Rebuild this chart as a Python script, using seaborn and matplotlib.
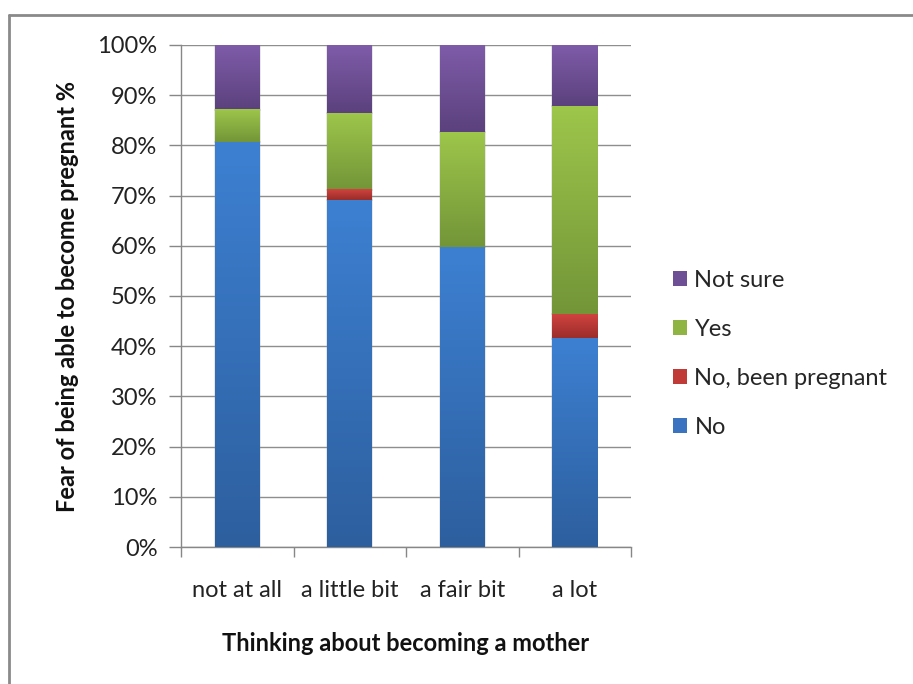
import numpy as np
import pandas as pd
import matplotlib
matplotlib.use("Agg")
import matplotlib.pyplot as plt
from matplotlib.colors import LinearSegmentedColormap
from matplotlib.patches import Patch, Rectangle
from matplotlib.lines import Line2D
import seaborn as sns

# Survey responses (% of respondents) per level of thinking about motherhood
categories = ["not at all", "a little bit", "a fair bit", "a lot"]
series = ["No", "No, been pregnant", "Yes", "Not sure"]
no_vals = [80.6, 69.1, 59.7, 41.5]
no_pregnant_vals = [0.0, 2.1, 0.0, 4.9]
yes_vals = [6.4, 15.3, 22.9, 41.4]
not_sure_vals = [13.0, 13.5, 17.4, 12.2]
y_ticks = [0, 10, 20, 30, 40, 50, 60, 70, 80, 90, 100]

# (top colour, bottom colour) for each series' vertical gradient
gradients = {
    "No": ("#3d80d2", "#2d5f9e"),
    "No, been pregnant": ("#d0433f", "#992c2a"),
    "Yes": ("#9dc64b", "#739538"),
    "Not sure": ("#7f5ca9", "#5b417d"),
}
legend_colors = {
    "No": "#3a74c0",
    "No, been pregnant": "#c03a37",
    "Yes": "#8fb443",
    "Not sure": "#6e4f96",
}

values = {"No": no_vals, "No, been pregnant": no_pregnant_vals,
          "Yes": yes_vals, "Not sure": not_sure_vals}

FS = 17

sns.set_theme(style="white")
plt.rcParams["font.family"] = ["Lato", "DejaVu Sans"]

fig = plt.figure(figsize=(9.13, 6.84), dpi=100)
ax = fig.add_axes([181 / 913, 1 - 547 / 684, 450 / 913, 502 / 684])

# cumulative stacks, drawn from the top layer down
cum = np.cumsum(np.array([values[s] for s in series]), axis=0)
lower = np.vstack([np.zeros(len(categories)), cum[:-1]])

for i in reversed(range(len(series))):
    df = pd.DataFrame({"cat": categories, "val": cum[i]})
    sns.barplot(data=df, x="cat", y="val", order=categories, ax=ax,
                color="white", width=0.4, saturation=1, edgecolor="none",
                linewidth=0, zorder=3)

# paint each segment with its gradient
n = len(categories)
bars = ax.patches
# patches are in drawing order: top layer first ... bottom layer last
for layer_idx, i in enumerate(reversed(range(len(series)))):
    top_c, bot_c = gradients[series[i]]
    cmap = LinearSegmentedColormap.from_list("g", [bot_c, top_c])
    grad = np.linspace(0, 1, 256).reshape(-1, 1)
    for j in range(n):
        p = bars[layer_idx * n + j]
        p.set_facecolor("none")
        lo, hi = lower[i, j], cum[i, j]
        if hi - lo <= 0.01:
            continue
        x0 = p.get_x()
        w = p.get_width()
        ax.imshow(grad, cmap=cmap, origin="lower", aspect="auto",
                  extent=(x0, x0 + w, lo, hi), zorder=4, interpolation="bilinear")
        # soft shadow edge
        ax.add_patch(Rectangle((x0, lo), w, hi - lo, fill=False,
                               edgecolor=(0.55, 0.55, 0.55, 0.25), lw=1.2, zorder=3.5))

ax.set_xlim(-0.5, n - 0.5)
ax.set_ylim(0, 100)
ax.set_yticks(y_ticks)
ax.set_yticklabels([f"{t}%" for t in y_ticks])
ax.set_xticks(range(n))
ax.set_xticklabels(categories)
ax.set_xticks(np.arange(-0.5, n, 1.0), minor=True)

axis_gray = "#878787"
ax.grid(axis="y", color="#8e8e8e", lw=1.0, zorder=0)
ax.grid(axis="x", visible=False)
for side in ["top", "right"]:
    ax.spines[side].set_visible(False)
for side in ["left", "bottom"]:
    ax.spines[side].set_color(axis_gray)
    ax.spines[side].set_linewidth(1.0)

ax.tick_params(axis="y", which="major", left=True, length=9, width=1,
               color=axis_gray, labelsize=FS, labelcolor="#222222", pad=8)
ax.tick_params(axis="x", which="major", bottom=False, length=0,
               labelsize=FS, labelcolor="#222222", pad=24)
ax.tick_params(axis="x", which="minor", bottom=True, length=7, width=1,
               color=axis_gray)

ax.set_xlabel("Thinking about becoming a mother", fontsize=FS,
              fontweight="bold", color="#111111", labelpad=22)
ax.set_ylabel("Fear of being able to become pregnant %", fontsize=FS,
              fontweight="bold", color="#111111", labelpad=13)
ax.set_facecolor("white")

# legend, top series first
handles = [Patch(facecolor=legend_colors[s], edgecolor="none", label=s)
           for s in reversed(series)]
fig.legend(handles=handles, loc="center left",
           bbox_to_anchor=(652 / 913, 1 - 354 / 684), frameon=False,
           fontsize=FS, handlelength=0.6, handleheight=0.6,
           handletextpad=0.3, labelspacing=1.18)

# outer chart frame
fig.add_artist(Line2D([9 / 913, 9 / 913], [0, 1 - 15 / 684],
                      transform=fig.transFigure, color="#8a8a8a", lw=2))
fig.add_artist(Line2D([9 / 913, 1], [1 - 15 / 684, 1 - 15 / 684],
                      transform=fig.transFigure, color="#8a8a8a", lw=2))

fig.savefig("out.png", dpi=100)
